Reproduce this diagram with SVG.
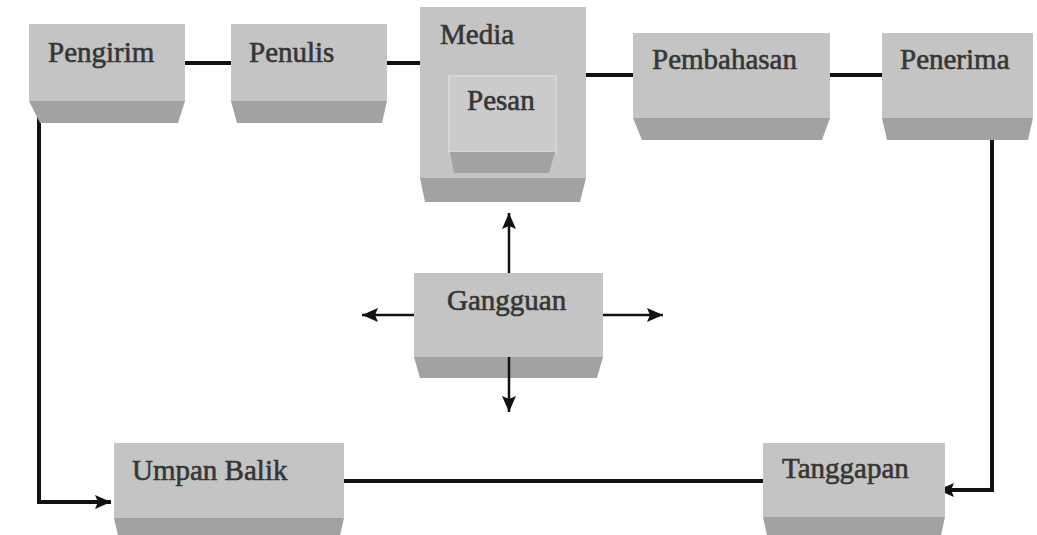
<svg xmlns="http://www.w3.org/2000/svg" width="1037" height="535" viewBox="0 0 1037 535">
<style>
.face{fill:#c4c4c4}
.bev{fill:#a2a2a2}
.inner{fill:#cbcbcb;stroke:#d6d6d6;stroke-width:2}
.lbl{font-family:"Liberation Serif","Times New Roman",serif;font-size:29px;fill:#363636;stroke:#363636;stroke-width:0.6}
.thick{stroke:#111;stroke-width:4;fill:none}
.arr{stroke:#111;stroke-width:2.5;fill:none}
</style>
<defs>
<marker id="ah" markerUnits="userSpaceOnUse" markerWidth="18" markerHeight="16" refX="16" refY="8" orient="auto">
<path d="M0,1 L16,8 L0,15 L3,8 Z" fill="#111"/>
</marker>
</defs>
<rect width="1037" height="535" fill="#fff"/>
<g id="connectors">
<line class="thick" x1="185" y1="63" x2="231" y2="63"/>
<line class="thick" x1="387" y1="63" x2="420" y2="63"/>
<line class="thick" x1="586" y1="75" x2="633" y2="75"/>
<line class="thick" x1="830" y1="75" x2="882" y2="75"/>
<line class="thick" x1="344" y1="481" x2="763" y2="481"/>
<path class="thick" d="M39,101 V502 H111" marker-end="url(#ah)"/>
<path class="thick" d="M992,130 V490 H938" marker-end="url(#ah)"/>
</g>
<g id="pengirim">
<rect class="face" x="29" y="24" width="156" height="77"/>
<path class="bev" d="M29,101 H185 L178,123 H40 Z"/>
<text class="lbl" x="48" y="62">Pengirim</text>
</g>
<g id="penulis">
<rect class="face" x="231" y="24" width="156" height="77"/>
<path class="bev" d="M231,101 H387 L382,123 H237 Z"/>
<text class="lbl" x="249" y="62">Penulis</text>
</g>
<g id="media">
<rect class="face" x="420" y="7" width="166" height="171"/>
<path class="bev" d="M420,178 H586 L580,202 H425 Z"/>
<text class="lbl" x="440" y="44">Media</text>
</g>
<g id="pesan">
<rect class="inner" x="449" y="76" width="107" height="76"/>
<path class="bev" d="M450,152 H555 L549,173 H454 Z"/>
<text class="lbl" x="467" y="110">Pesan</text>
</g>
<g id="pembahasan">
<rect class="face" x="633" y="33" width="197" height="85"/>
<path class="bev" d="M633,118 H830 L822,140 H642 Z"/>
<text class="lbl" x="652" y="69">Pembahasan</text>
</g>
<g id="penerima">
<rect class="face" x="882" y="33" width="151" height="85"/>
<path class="bev" d="M882,118 H1033 L1028,140 H887 Z"/>
<text class="lbl" x="900" y="69">Penerima</text>
</g>
<g id="gangguan">
<rect class="face" x="414" y="273" width="189" height="84"/>
<path class="bev" d="M414,357 H603 L597,378 H420 Z"/>
<text class="lbl" x="447" y="310">Gangguan</text>
</g>
<g id="gangguan-arrows">
<line class="arr" x1="509" y1="273" x2="509" y2="213" marker-end="url(#ah)"/>
<line class="arr" x1="414" y1="315" x2="362" y2="315" marker-end="url(#ah)"/>
<line class="arr" x1="603" y1="315" x2="663" y2="315" marker-end="url(#ah)"/>
<line class="arr" x1="509" y1="357" x2="509" y2="412" marker-end="url(#ah)"/>
</g>
<g id="umpan-balik">
<rect class="face" x="114" y="443" width="230" height="75"/>
<path class="bev" d="M114,518 H344 L339,540 H119 Z"/>
<text class="lbl" x="132" y="480">Umpan Balik</text>
</g>
<g id="tanggapan">
<rect class="face" x="763" y="443" width="182" height="74"/>
<path class="bev" d="M763,517 H945 L940,540 H768 Z"/>
<text class="lbl" x="782" y="478">Tanggapan</text>
</g>
</svg>
